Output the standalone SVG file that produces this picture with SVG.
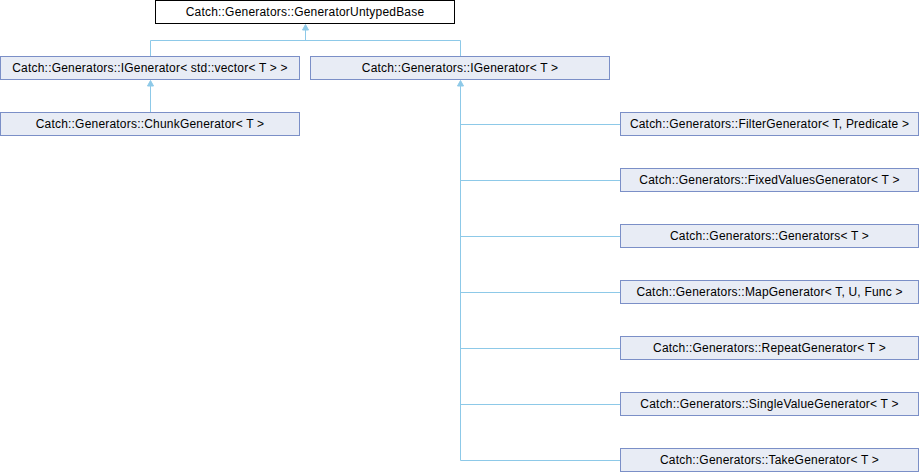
<svg xmlns="http://www.w3.org/2000/svg" width="920" height="472" viewBox="0 0 920 472">
<defs>
<style>
.n rect{fill:#E8ECF5;stroke:#7B8FC7;stroke-width:1}
.n.root rect{fill:#FFFFFF;stroke:#000000}
.n text{font-family:"Liberation Sans",Arial,sans-serif;font-size:12px;letter-spacing:0.2px;fill:#000;text-anchor:middle}
.e path{fill:none;stroke:#8DC9E8;stroke-width:1}
.e polygon{fill:#8DC9E8;stroke:#8DC9E8;stroke-width:1}
</style>
</defs>
<rect width="920" height="472" fill="#FFFFFF"/>
<g id="connectors" class="e">
<path d="M150.5,56.5V40.5H460.5V56.5M305.5,40.5V26"/>
<polygon points="305.5,24.5 302.5,30 308.5,30"/>
<path d="M150.5,112.5V86"/>
<polygon points="150.5,80.5 147.5,86 153.5,86"/>
<path d="M460.5,86V460.5"/>
<polygon points="460.5,80.5 457.5,86 463.5,86"/>
<path d="M460.5,124.5H620.5M460.5,180.5H620.5M460.5,236.5H620.5M460.5,292.5H620.5M460.5,348.5H620.5M460.5,404.5H620.5M460.5,460.5H620.5"/>
</g>
<g id="GeneratorUntypedBase" class="n root"><rect x="155.5" y="0.5" width="299" height="23"/><text x="305" y="15.5">Catch::Generators::GeneratorUntypedBase</text></g>
<g id="IGeneratorVector" class="n"><rect x="0.5" y="56.5" width="299" height="23"/><text x="150" y="71.5">Catch::Generators::IGenerator&lt; std::vector&lt; T &gt; &gt;</text></g>
<g id="IGeneratorT" class="n"><rect x="310.5" y="56.5" width="299" height="23"/><text x="460" y="71.5">Catch::Generators::IGenerator&lt; T &gt;</text></g>
<g id="ChunkGenerator" class="n"><rect x="0.5" y="112.5" width="299" height="23"/><text x="150" y="127.5">Catch::Generators::ChunkGenerator&lt; T &gt;</text></g>
<g id="FilterGenerator" class="n"><rect x="620.5" y="112.5" width="298" height="23"/><text x="769.5" y="127.5">Catch::Generators::FilterGenerator&lt; T, Predicate &gt;</text></g>
<g id="FixedValuesGenerator" class="n"><rect x="620.5" y="168.5" width="298" height="23"/><text x="769.5" y="183.5">Catch::Generators::FixedValuesGenerator&lt; T &gt;</text></g>
<g id="Generators" class="n"><rect x="620.5" y="224.5" width="298" height="23"/><text x="769.5" y="239.5">Catch::Generators::Generators&lt; T &gt;</text></g>
<g id="MapGenerator" class="n"><rect x="620.5" y="280.5" width="298" height="23"/><text x="769.5" y="295.5">Catch::Generators::MapGenerator&lt; T, U, Func &gt;</text></g>
<g id="RepeatGenerator" class="n"><rect x="620.5" y="336.5" width="298" height="23"/><text x="769.5" y="351.5">Catch::Generators::RepeatGenerator&lt; T &gt;</text></g>
<g id="SingleValueGenerator" class="n"><rect x="620.5" y="392.5" width="298" height="23"/><text x="769.5" y="407.5">Catch::Generators::SingleValueGenerator&lt; T &gt;</text></g>
<g id="TakeGenerator" class="n"><rect x="620.5" y="448.5" width="298" height="23"/><text x="769.5" y="463.5">Catch::Generators::TakeGenerator&lt; T &gt;</text></g>
</svg>
